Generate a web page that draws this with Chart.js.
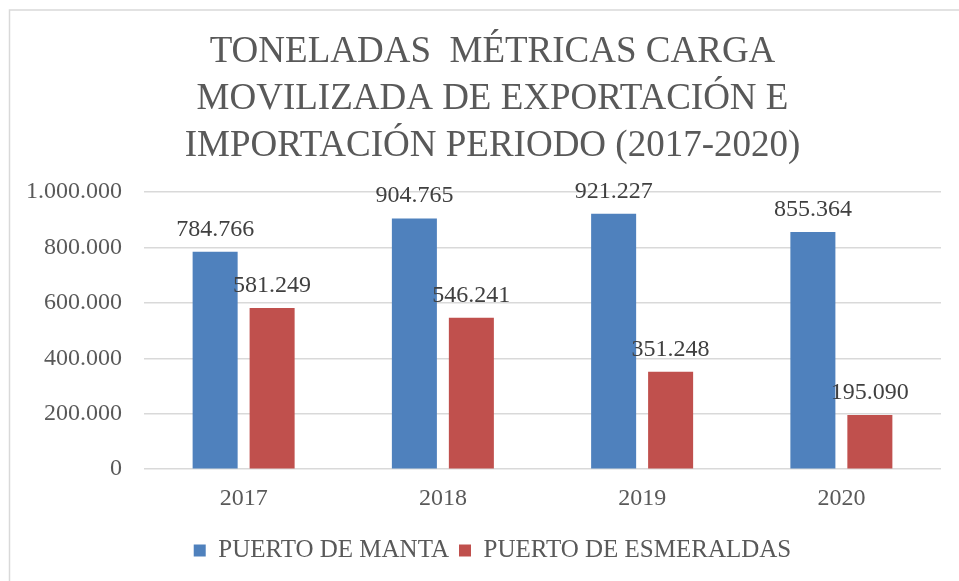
<!DOCTYPE html>
<html>
<head>
<meta charset="utf-8">
<script src="https://cdn.jsdelivr.net/npm/chart.js@4"></script>
<style>
  html, body { margin: 0; padding: 0; background: #fff; }
  #wrap { width: 959px; height: 581px; }
</style>
</head>
<body>
<div id="wrap"><canvas id="cargaChart" width="959" height="581"></canvas></div>
<script>
// datos
const years = ['2017', '2018', '2019', '2020'];
const manta = [784766, 904765, 921227, 855364];
const esmeraldas = [581249, 546241, 351248, 195090];
const yTicks = [0, 200000, 400000, 600000, 800000, 1000000];

const serif = "'Liberation Serif', 'Times New Roman', serif";
const grey = '#595959';

// separador de miles con punto
const fmt = v => String(v).replace(/\B(?=(\d{3})+(?!\d))/g, '.');

// marco del gráfico
const framePlugin = {
  id: 'frame',
  beforeDraw(chart) {
    const c = chart.ctx;
    c.save();
    c.fillStyle = '#fff';
    c.fillRect(0, 0, chart.width, chart.height);
    c.strokeStyle = '#d9d9d9';
    c.lineWidth = 1.5;
    c.strokeRect(9.5, 10, chart.width + 10, chart.height + 10);
    c.restore();
  }
};

// etiquetas de valor sobre las barras
const valueLabels = {
  id: 'valueLabels',
  afterDatasetsDraw(chart) {
    const c = chart.ctx;
    c.save();
    c.font = '24px ' + serif;
    c.fillStyle = '#404040';
    c.textAlign = 'center';
    c.textBaseline = 'alphabetic';
    chart.data.datasets.forEach((ds, i) => {
      chart.getDatasetMeta(i).data.forEach((bar, j) => {
        c.fillText(fmt(ds.data[j]), bar.x, bar.y - 16);
      });
    });
    c.restore();
  }
};

new Chart(document.getElementById('cargaChart'), {
  type: 'bar',
  data: {
    labels: years,
    datasets: [
      { label: 'PUERTO DE MANTA', data: manta, backgroundColor: '#4f81bd', borderColor: '#4f81bd' },
      { label: 'PUERTO DE ESMERALDAS', data: esmeraldas, backgroundColor: '#c0504d', borderColor: '#c0504d' }
    ]
  },
  options: {
    responsive: false,
    animation: false,
    devicePixelRatio: 1,
    categoryPercentage: 0.572,
    barPercentage: 0.79,
    layout: { padding: { left: 44, right: 18, top: 0, bottom: 8 } },
    plugins: {
      title: {
        display: true,
        text: ['TONELADAS  MÉTRICAS CARGA', 'MOVILIZADA DE EXPORTACIÓN E', 'IMPORTACIÓN PERIODO (2017-2020)'],
        color: grey,
        font: { family: serif, size: 37, weight: 'normal', lineHeight: 47 / 37 },
        padding: { top: 29, bottom: 22 }
      },
      legend: {
        position: 'bottom',
        labels: {
          color: grey,
          font: { family: serif, size: 25 },
          boxWidth: 12,
          boxHeight: 12,
          padding: 10
        }
      },
      tooltip: { enabled: false }
    },
    scales: {
      x: {
        grid: { display: false, drawTicks: false },
        border: { display: false },
        ticks: { color: grey, font: { family: serif, size: 24 }, padding: 15 }
      },
      y: {
        min: 0,
        max: 1000000,
        afterFit(scale) {
          scale.width = 100;
          // dejar que las etiquetas largas pasen al margen izquierdo
          scale._computeLabelArea = () => undefined;
        },
        afterBuildTicks(scale) { scale.ticks = yTicks.map(v => ({ value: v })); },
        grid: { color: '#d9d9d9', lineWidth: 1.5, drawTicks: false },
        border: { display: false },
        ticks: {
          color: grey,
          font: { family: serif, size: 24 },
          padding: 22,
          callback: v => fmt(v)
        }
      }
    }
  },
  plugins: [framePlugin, valueLabels]
});
</script>
</body>
</html>
